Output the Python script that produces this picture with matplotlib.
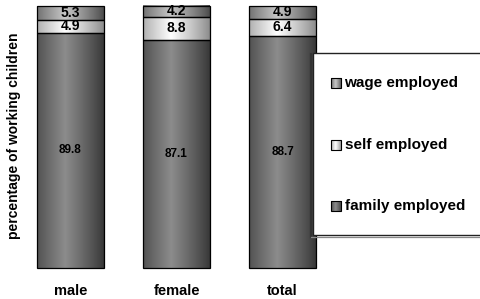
import numpy as np
import matplotlib.pyplot as plt
from matplotlib.patches import Rectangle

groups = ['male', 'female', 'total']
family = [89.8, 87.1, 88.7]
self_emp = [4.9, 8.8, 6.4]
wage = [5.3, 4.2, 4.9]
series_names = ['family employed', 'self employed', 'wage employed']

# (edge colour, centre colour) of the cylinder shading for each series
shades = [((0.22, 0.22, 0.22), (0.55, 0.55, 0.55)),
          ((0.55, 0.55, 0.55), (1.0, 1.0, 1.0)),
          ((0.30, 0.30, 0.30), (0.78, 0.78, 0.78))]


def cylinder(edge, centre, n=64):
    t = np.linspace(0, 1, n)
    # light peak a bit left of centre
    w = np.clip(1 - np.abs(t - 0.42) / 0.58, 0, 1) ** 0.9
    rgb = np.outer(1 - w, edge) + np.outer(w, centre)
    return rgb[np.newaxis, :, :]


fig = plt.figure(figsize=(4.8, 2.99), dpi=100)
ax = fig.add_axes([0, 0, 1, 1])
ax.set_xlim(-0.665, 3.863)
ax.set_ylim(-11.83, 102.29)
ax.axis('off')

width = 0.63
x = np.arange(len(groups))
data = [family, self_emp, wage]
font = 'Liberation Sans'

for i in range(len(groups)):
    bottom = 0
    for s, vals in enumerate(data):
        v = vals[i]
        img = cylinder(*shades[s])
        ax.imshow(img, extent=(x[i] - width / 2, x[i] + width / 2, bottom, bottom + v),
                  aspect='auto', interpolation='bilinear', zorder=1)
        ax.add_patch(Rectangle((x[i] - width / 2, bottom), width, v, fill=False,
                               edgecolor='black', linewidth=0.9, zorder=2))
        size = 8.5 if s == 0 else 10
        ax.text(x[i], bottom + v / 2, f'{v}', ha='center', va='center',
                fontsize=size, fontweight='bold', family=font, zorder=3)
        bottom += v
    ax.text(x[i], -8.6, groups[i], ha='center', va='center', fontsize=10.5,
            fontweight='bold', family=font)

ax.text(-0.535, 50.5, 'percentage of working children', rotation=90, ha='center',
        va='center', fontsize=10, fontweight='bold', family=font)

# legend box with a shadow on its left and bottom
ax.add_patch(Rectangle((2.285, 12.5), 1.7, 69.6, facecolor='white', edgecolor='#222222',
                       linewidth=1.0, zorder=4))
ax.plot([2.272, 2.272], [12.0, 81.6], color='#333333', linewidth=1.6, zorder=4)
ax.plot([2.272, 4.0], [12.0, 12.0], color='#888888', linewidth=0.9, zorder=4)

leg_y = [23.7, 46.9, 70.6]
for s in range(3):
    yy = leg_y[s]
    img = cylinder(*shades[s], n=16)
    ax.imshow(img, extent=(2.455, 2.555, yy - 1.8, yy + 1.8), aspect='auto',
              interpolation='bilinear', zorder=5)
    ax.add_patch(Rectangle((2.455, yy - 1.8), 0.1, 3.6, fill=False, edgecolor='black',
                           linewidth=0.8, zorder=6))
    ax.text(2.585, yy, series_names[s], ha='left', va='center', fontsize=11,
            fontweight='bold', family=font, zorder=6)

fig.savefig('out.png', dpi=100)
